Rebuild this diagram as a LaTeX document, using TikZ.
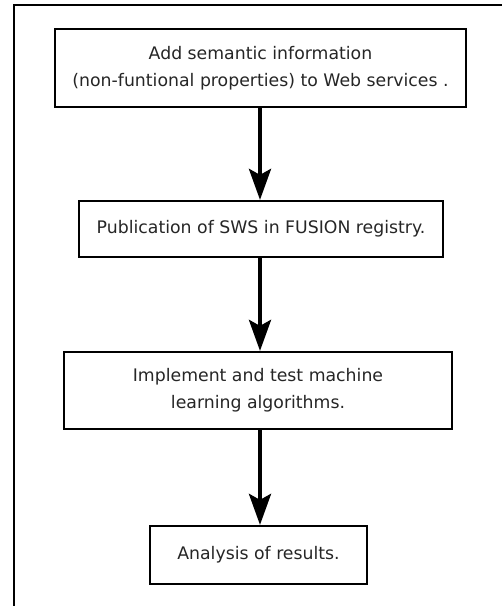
\documentclass[tikz,border=0pt]{standalone}
\usepackage{fontspec}
\setmainfont{DejaVu Sans}
\usetikzlibrary{arrows.meta}
\definecolor{tcol}{HTML}{262626}

\begin{document}
\begin{tikzpicture}[x=1pt, y=-1pt, >={Stealth[length=31pt, width=22pt, inset=6pt]}]
\tikzset{stepbox/.style={draw, line width=2.2pt, fill=white, align=center, text=tcol, font=\fontsize{17.3}{27}\selectfont, inner sep=0pt}}
\useasboundingbox (0,0) rectangle (502,606);
% frame (cropped: top and left edges only)
\draw[line width=2.5pt] (14,606) -- (14,5) -- (502,5);
\coordinate (axis) at (260,0);
\node[stepbox, minimum width=411pt, minimum height=78pt] (info) at (260.5,68) {Add semantic information\\(non-funtional properties) to Web services .};
\node[stepbox, minimum width=364pt, minimum height=56pt] (pub) at (261,229) {Publication of SWS in FUSION registry.};
\node[stepbox, minimum width=388pt, minimum height=77pt] (impl) at (258,390.5) {Implement and test machine\\learning algorithms.};
\node[stepbox, minimum width=217pt, minimum height=58pt] (res) at (258.5,555) {Analysis of results.};
\draw[->, line width=4pt] (info.south -| axis) -- (pub.north -| axis);
\draw[->, line width=4pt] (pub.south -| axis) -- (impl.north -| axis);
\draw[->, line width=4pt] (impl.south -| axis) -- (res.north -| axis);
\end{tikzpicture}
\end{document}
